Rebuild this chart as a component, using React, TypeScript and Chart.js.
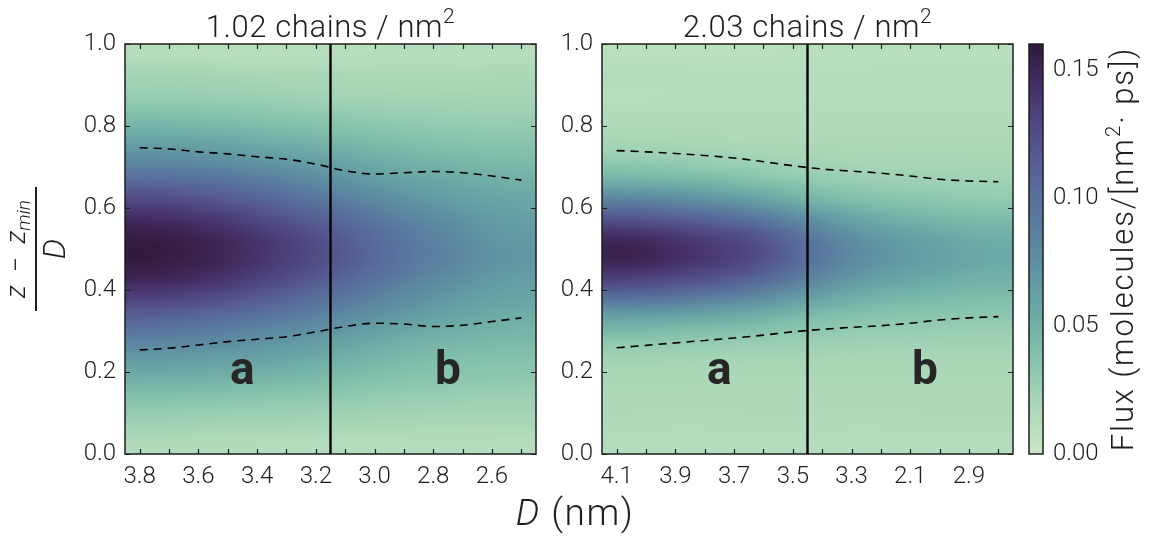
import React, { useEffect, useRef } from 'react';
import { Chart, registerables } from 'chart.js';

Chart.register(...registerables);

const CANVAS_W = 1161;
const CANVAS_H = 536;
const FONT = 'Roboto, "Liberation Sans", sans-serif';
const INK = '#1e1e1e';
const TICK_FONT = { family: FONT, size: 24, weight: '300' };

// ---- shared height axis (z - z_min) / D ----
const zTicks = [0, 0.2, 0.4, 0.6, 0.8, 1.0];
const zTickLabels = ['0.0', '0.2', '0.4', '0.6', '0.8', '1.0'];
const regionNames = ['a', 'b'];
const regionZ = 0.17;

// ---- 1.02 chains / nm^2 ----
const lowTitle = '1.02 chains / nm';
const lowDTicks = [3.8, 3.7, 3.6, 3.5, 3.4, 3.3, 3.2, 3.1, 3.0, 2.9, 2.8, 2.7, 2.6, 2.5];
const lowDTickLabels = ['3.8', '', '3.6', '', '3.4', '', '3.2', '', '3.0', '', '2.8', '', '2.6', ''];
const lowDRange = [2.45, 3.85];
// flux rows from z = 0.975 down to z = 0.025; columns D = 3.75 ... 2.55
const lowFlux = [
  [0.012, 0.011, 0.011, 0.011, 0.012, 0.012, 0.012],
  [0.022, 0.021, 0.019, 0.018, 0.017, 0.017, 0.018],
  [0.028, 0.027, 0.025, 0.022, 0.021, 0.021, 0.021],
  [0.040, 0.038, 0.035, 0.032, 0.029, 0.027, 0.026],
  [0.056, 0.053, 0.048, 0.043, 0.038, 0.035, 0.033],
  [0.076, 0.072, 0.065, 0.057, 0.049, 0.044, 0.041],
  [0.100, 0.095, 0.085, 0.072, 0.061, 0.054, 0.049],
  [0.125, 0.118, 0.105, 0.090, 0.075, 0.064, 0.057],
  [0.145, 0.138, 0.124, 0.108, 0.089, 0.075, 0.064],
  [0.157, 0.150, 0.137, 0.120, 0.098, 0.082, 0.068],
  [0.158, 0.151, 0.138, 0.122, 0.100, 0.084, 0.070],
  [0.149, 0.142, 0.129, 0.112, 0.092, 0.077, 0.065],
  [0.130, 0.123, 0.111, 0.096, 0.080, 0.067, 0.059],
  [0.106, 0.100, 0.090, 0.079, 0.066, 0.057, 0.051],
  [0.084, 0.079, 0.072, 0.063, 0.053, 0.047, 0.044],
  [0.064, 0.061, 0.057, 0.051, 0.044, 0.039, 0.037],
  [0.049, 0.047, 0.044, 0.040, 0.036, 0.033, 0.031],
  [0.035, 0.033, 0.031, 0.030, 0.027, 0.025, 0.024],
  [0.025, 0.023, 0.022, 0.021, 0.020, 0.019, 0.019],
  [0.014, 0.014, 0.013, 0.013, 0.012, 0.013, 0.012],
];
const lowBoundaryD = [3.8, 3.7, 3.6, 3.5, 3.4, 3.3, 3.2, 3.1, 3.0, 2.9, 2.8, 2.7, 2.6, 2.5];
const lowUpper = [0.747, 0.744, 0.737, 0.732, 0.725, 0.719, 0.707, 0.691, 0.683, 0.686, 0.689, 0.686, 0.678, 0.668];
const lowLower = [0.254, 0.258, 0.266, 0.274, 0.280, 0.286, 0.298, 0.311, 0.319, 0.317, 0.311, 0.314, 0.323, 0.332];
const lowDivider = 3.15;
const lowRegionD = [3.45, 2.75];

// ---- 2.03 chains / nm^2 ----
const highTitle = '2.03 chains / nm';
const highDTicks = [4.1, 4.0, 3.9, 3.8, 3.7, 3.6, 3.5, 3.4, 3.3, 3.2, 3.1, 3.0, 2.9, 2.8];
const highDTickLabels = ['4.1', '', '3.9', '', '3.7', '', '3.5', '', '3.3', '', '2.1', '', '2.9', ''];
const highDRange = [2.75, 4.15];
// flux rows from z = 0.975 down to z = 0.025; columns D = 4.05 ... 2.85
const highFlux = [
  [0.010, 0.010, 0.010, 0.011, 0.011, 0.011, 0.011],
  [0.013, 0.013, 0.012, 0.012, 0.012, 0.013, 0.013],
  [0.011, 0.012, 0.012, 0.012, 0.012, 0.012, 0.012],
  [0.014, 0.014, 0.014, 0.014, 0.014, 0.014, 0.014],
  [0.018, 0.017, 0.016, 0.016, 0.016, 0.016, 0.016],
  [0.027, 0.025, 0.022, 0.020, 0.019, 0.019, 0.019],
  [0.046, 0.042, 0.036, 0.029, 0.025, 0.024, 0.023],
  [0.080, 0.073, 0.062, 0.047, 0.037, 0.033, 0.030],
  [0.120, 0.111, 0.098, 0.074, 0.055, 0.047, 0.042],
  [0.148, 0.138, 0.126, 0.097, 0.072, 0.061, 0.053],
  [0.152, 0.142, 0.130, 0.100, 0.075, 0.064, 0.056],
  [0.132, 0.124, 0.111, 0.084, 0.064, 0.056, 0.050],
  [0.094, 0.087, 0.077, 0.060, 0.048, 0.043, 0.040],
  [0.056, 0.052, 0.047, 0.039, 0.034, 0.032, 0.031],
  [0.033, 0.031, 0.029, 0.027, 0.025, 0.024, 0.024],
  [0.022, 0.021, 0.020, 0.020, 0.019, 0.019, 0.019],
  [0.018, 0.018, 0.017, 0.017, 0.017, 0.017, 0.017],
  [0.016, 0.016, 0.016, 0.016, 0.016, 0.016, 0.016],
  [0.015, 0.014, 0.015, 0.015, 0.014, 0.015, 0.015],
  [0.012, 0.012, 0.012, 0.012, 0.012, 0.012, 0.012],
];
const highBoundaryD = [4.1, 4.0, 3.9, 3.8, 3.7, 3.6, 3.5, 3.4, 3.3, 3.2, 3.1, 3.0, 2.9, 2.8];
const highUpper = [0.740, 0.737, 0.733, 0.728, 0.722, 0.713, 0.703, 0.695, 0.690, 0.685, 0.678, 0.670, 0.666, 0.664];
const highLower = [0.259, 0.265, 0.271, 0.277, 0.283, 0.290, 0.298, 0.304, 0.309, 0.313, 0.319, 0.327, 0.332, 0.335];
const highDivider = 3.45;
const highRegionD = [3.75, 3.05];

// ---- colour bar ----
const fluxTicks = [0, 0.05, 0.10, 0.15];
const fluxTickLabels = ['0.00', '0.05', '0.10', '0.15'];
const fluxRange = [0, 0.16];

// light mint -> teal -> slate blue -> deep plum
const CMAP_STOPS: number[][] = [
  [0.0, 201, 231, 197],
  [0.125, 168, 214, 183],
  [0.25, 128, 191, 171],
  [0.344, 108, 170, 165],
  [0.4375, 96, 150, 163],
  [0.53, 91, 130, 160],
  [0.625, 88, 112, 156],
  [0.72, 86, 92, 147],
  [0.8125, 80, 70, 128],
  [0.906, 67, 45, 98],
  [1.0, 48, 24, 58],
];

function fluxColor(v: number): number[] {
  const t = Math.min(1, Math.max(0, (v - fluxRange[0]) / (fluxRange[1] - fluxRange[0])));
  for (let i = 1; i < CMAP_STOPS.length; i++) {
    const a = CMAP_STOPS[i - 1];
    const b = CMAP_STOPS[i];
    if (t <= b[0]) {
      const f = (t - a[0]) / (b[0] - a[0]);
      return [0, 1, 2].map((k) => Math.round(a[k + 1] + (b[k + 1] - a[k + 1]) * f));
    }
  }
  const last = CMAP_STOPS[CMAP_STOPS.length - 1];
  return [last[1], last[2], last[3]];
}

type Run = { text: string; font: string; dy?: number };

function drawRuns(
  ctx: CanvasRenderingContext2D,
  runs: Run[],
  x: number,
  y: number,
  align: 'left' | 'center',
  spacing = 0
) {
  ctx.textAlign = 'left';
  ctx.textBaseline = 'alphabetic';
  (ctx as any).letterSpacing = `${spacing}px`;
  const widths = runs.map((r) => {
    ctx.font = r.font;
    return ctx.measureText(r.text).width;
  });
  const total = widths.reduce((s, w) => s + w, 0);
  let cx = align === 'center' ? x - total / 2 : x;
  runs.forEach((r, i) => {
    ctx.font = r.font;
    ctx.fillText(r.text, cx, y + (r.dy || 0));
    cx += widths[i];
  });
  (ctx as any).letterSpacing = '0px';
}

const PANEL_Y_AXIS_W = 60;
const PANEL_X_AXIS_H = 40;
const lowBox = { left: 125, right: 536, top: 44, bottom: 454 };
const highBox = { left: 602, right: 1013, top: 44, bottom: 454 };
const barBox = { left: 1029, right: 1043, top: 44, bottom: 454 };

type PanelSpec = {
  title: string;
  dTicks: number[];
  dTickLabels: string[];
  dRange: number[];
  flux: number[][];
  boundaryD: number[];
  upper: number[];
  lower: number[];
  divider: number;
  regionD: number[];
};

function drawHeatmap(chart: any, flux: number[][], dRange: number[]) {
  const { ctx, chartArea, scales } = chart;
  const rows = flux.length;
  const cols = flux[0].length;
  const off = document.createElement('canvas');
  off.width = cols;
  off.height = rows;
  const octx = off.getContext('2d')!;
  const img = octx.createImageData(cols, rows);
  flux.forEach((row, r) =>
    row.forEach((v, c) => {
      const [R, G, B] = fluxColor(v);
      const i = (r * cols + c) * 4;
      img.data[i] = R;
      img.data[i + 1] = G;
      img.data[i + 2] = B;
      img.data[i + 3] = 255;
    })
  );
  octx.putImageData(img, 0, 0);
  const xa = scales.x.getPixelForValue(dRange[1]);
  const xb = scales.x.getPixelForValue(dRange[0]);
  const ya = scales.y.getPixelForValue(1);
  const yb = scales.y.getPixelForValue(0);
  ctx.save();
  ctx.beginPath();
  ctx.rect(chartArea.left, chartArea.top, chartArea.right - chartArea.left, chartArea.bottom - chartArea.top);
  ctx.clip();
  ctx.imageSmoothingEnabled = true;
  ctx.imageSmoothingQuality = 'high';
  ctx.drawImage(off, Math.min(xa, xb), Math.min(ya, yb), Math.abs(xb - xa), Math.abs(yb - ya));
  ctx.restore();
}

function makePanel(canvas: HTMLCanvasElement, spec: PanelSpec, box: typeof lowBox) {
  const decor = {
    id: 'panelDecor',
    beforeDatasetsDraw(chart: any) {
      drawHeatmap(chart, spec.flux, spec.dRange);
    },
    afterDatasetsDraw(chart: any) {
      const { ctx, chartArea, scales } = chart;
      ctx.save();
      // region letters
      ctx.fillStyle = '#262626';
      ctx.font = `bold 46px ${FONT}`;
      ctx.textAlign = 'center';
      ctx.textBaseline = 'alphabetic';
      spec.regionD.forEach((d, i) => {
        ctx.fillText(regionNames[i], scales.x.getPixelForValue(d), scales.y.getPixelForValue(regionZ));
      });
      // frame
      ctx.strokeStyle = INK;
      ctx.lineWidth = 1.5;
      ctx.strokeRect(chartArea.left, chartArea.top, chartArea.right - chartArea.left, chartArea.bottom - chartArea.top);
      // inward ticks
      ctx.lineWidth = 1.2;
      ctx.beginPath();
      spec.dTicks.forEach((d) => {
        const px = Math.round(scales.x.getPixelForValue(d)) + 0.5;
        ctx.moveTo(px, chartArea.bottom);
        ctx.lineTo(px, chartArea.bottom - 5);
        ctx.moveTo(px, chartArea.top);
        ctx.lineTo(px, chartArea.top + 5);
      });
      zTicks.forEach((z) => {
        const py = Math.round(scales.y.getPixelForValue(z)) + 0.5;
        ctx.moveTo(chartArea.left, py);
        ctx.lineTo(chartArea.left + 5, py);
        ctx.moveTo(chartArea.right, py);
        ctx.lineTo(chartArea.right - 5, py);
      });
      ctx.stroke();
      ctx.restore();
    },
    afterDraw(chart: any) {
      const { ctx, chartArea } = chart;
      ctx.save();
      ctx.fillStyle = INK;
      drawRuns(
        ctx,
        [
          { text: spec.title, font: `300 31px ${FONT}` },
          { text: '2', font: `300 21px ${FONT}`, dy: -14 },
        ],
        (chartArea.left + chartArea.right) / 2,
        37,
        'center',
        0.6
      );
      ctx.restore();
    },
  };

  const lineStyle = {
    showLine: true,
    pointRadius: 0,
    pointHoverRadius: 0,
    fill: false,
  };

  return new Chart(canvas, {
    type: 'scatter',
    data: {
      datasets: [
        {
          ...lineStyle,
          data: spec.boundaryD.map((d, i) => ({ x: d, y: spec.upper[i] })),
          borderColor: '#000000',
          borderWidth: 1.6,
          borderDash: [8, 6],
          cubicInterpolationMode: 'monotone',
        },
        {
          ...lineStyle,
          data: spec.boundaryD.map((d, i) => ({ x: d, y: spec.lower[i] })),
          borderColor: '#000000',
          borderWidth: 1.6,
          borderDash: [8, 6],
          cubicInterpolationMode: 'monotone',
        },
        {
          ...lineStyle,
          data: [
            { x: spec.divider, y: 0 },
            { x: spec.divider, y: 1 },
          ],
          borderColor: '#000000',
          borderWidth: 2.4,
        },
      ],
    } as any,
    options: {
      responsive: false,
      animation: false,
      events: [],
      layout: {
        padding: {
          left: box.left - PANEL_Y_AXIS_W,
          right: CANVAS_W - box.right,
          top: box.top,
          bottom: CANVAS_H - box.bottom - PANEL_X_AXIS_H,
        },
      },
      plugins: { legend: { display: false }, tooltip: { enabled: false } },
      scales: {
        x: {
          type: 'linear',
          position: 'bottom',
          reverse: true,
          min: spec.dRange[0],
          max: spec.dRange[1],
          afterBuildTicks: (axis: any) => {
            axis.ticks = spec.dTicks.map((v) => ({ value: v }));
          },
          afterFit: (axis: any) => {
            axis.height = PANEL_X_AXIS_H;
          },
          grid: { display: false, drawTicks: false },
          border: { display: false },
          ticks: {
            autoSkip: false,
            maxRotation: 0,
            minRotation: 0,
            padding: 9,
            color: INK,
            font: TICK_FONT,
            callback: (_v: any, i: number) => spec.dTickLabels[i],
          },
        },
        y: {
          type: 'linear',
          position: 'left',
          min: 0,
          max: 1,
          afterBuildTicks: (axis: any) => {
            axis.ticks = zTicks.map((v) => ({ value: v }));
          },
          afterFit: (axis: any) => {
            axis.width = PANEL_Y_AXIS_W;
          },
          grid: { display: false, drawTicks: false },
          border: { display: false },
          ticks: {
            autoSkip: false,
            padding: 9,
            color: INK,
            font: TICK_FONT,
            callback: (_v: any, i: number) => zTickLabels[i],
          },
        },
      },
    } as any,
    plugins: [decor],
  });
}

const BAR_AXIS_W = 80;

function makeColorBar(canvas: HTMLCanvasElement) {
  const decor = {
    id: 'barDecor',
    beforeDatasetsDraw(chart: any) {
      const { ctx, chartArea, scales } = chart;
      const y0 = scales.y.getPixelForValue(fluxRange[0]);
      const y1 = scales.y.getPixelForValue(fluxRange[1]);
      const grad = ctx.createLinearGradient(0, y0, 0, y1);
      for (let k = 0; k <= 64; k++) {
        const v = fluxRange[0] + ((fluxRange[1] - fluxRange[0]) * k) / 64;
        const [R, G, B] = fluxColor(v);
        grad.addColorStop(k / 64, `rgb(${R},${G},${B})`);
      }
      ctx.save();
      ctx.fillStyle = grad;
      ctx.fillRect(chartArea.left, chartArea.top, chartArea.right - chartArea.left, chartArea.bottom - chartArea.top);
      ctx.strokeStyle = INK;
      ctx.lineWidth = 1.5;
      ctx.strokeRect(chartArea.left, chartArea.top, chartArea.right - chartArea.left, chartArea.bottom - chartArea.top);
      ctx.restore();
    },
    afterDraw(chart: any) {
      const { ctx } = chart;
      ctx.save();
      ctx.fillStyle = INK;

      // colour bar title, reading upward
      ctx.save();
      ctx.translate(1133, 249);
      ctx.rotate(-Math.PI / 2);
      drawRuns(
        ctx,
        [
          { text: 'Flux (molecules/[nm', font: `300 31px ${FONT}` },
          { text: '2', font: `300 21px ${FONT}`, dy: -13 },
          { text: '· ps])', font: `300 31px ${FONT}` },
        ],
        0,
        0,
        'center',
        1.9
      );
      ctx.restore();

      // shared vertical axis title: (z - z_min) / D
      ctx.save();
      ctx.translate(36, 249);
      ctx.rotate(-Math.PI / 2);
      ctx.fillRect(-62, -1, 124, 2);
      drawRuns(
        ctx,
        [
          { text: 'z', font: `italic 300 27px ${FONT}` },
          { text: '  −  ', font: `300 27px ${FONT}` },
          { text: 'z', font: `italic 300 27px ${FONT}` },
          { text: 'min', font: `italic 300 19px ${FONT}`, dy: 5 },
        ],
        0,
        -11,
        'center'
      );
      ctx.font = `italic 300 32px ${FONT}`;
      ctx.textAlign = 'center';
      ctx.fillText('D', 0, 29);
      ctx.restore();

      // shared horizontal axis title: D (nm)
      drawRuns(
        ctx,
        [
          { text: 'D', font: `italic 300 37px ${FONT}` },
          { text: ' (nm)', font: `300 37px ${FONT}` },
        ],
        575,
        525,
        'center',
        1.5
      );
      ctx.restore();
    },
  };

  return new Chart(canvas, {
    type: 'scatter',
    data: { datasets: [] },
    options: {
      responsive: false,
      animation: false,
      events: [],
      layout: {
        padding: {
          left: barBox.left,
          right: CANVAS_W - barBox.right - BAR_AXIS_W,
          top: barBox.top,
          bottom: CANVAS_H - barBox.bottom,
        },
      },
      plugins: { legend: { display: false }, tooltip: { enabled: false } },
      scales: {
        x: { type: 'linear', display: false, min: 0, max: 1 },
        y: {
          type: 'linear',
          position: 'right',
          min: fluxRange[0],
          max: fluxRange[1],
          afterBuildTicks: (axis: any) => {
            axis.ticks = fluxTicks.map((v) => ({ value: v }));
          },
          afterFit: (axis: any) => {
            axis.width = BAR_AXIS_W;
          },
          grid: { display: false, drawTicks: false },
          border: { display: false },
          ticks: {
            autoSkip: false,
            padding: 10,
            color: INK,
            font: TICK_FONT,
            callback: (_v: any, i: number) => fluxTickLabels[i],
          },
        },
      },
    } as any,
    plugins: [decor],
  });
}

export default function App() {
  const lowRef = useRef<HTMLCanvasElement>(null);
  const highRef = useRef<HTMLCanvasElement>(null);
  const barRef = useRef<HTMLCanvasElement>(null);

  useEffect(() => {
    document.body.style.margin = '0';
    const charts = [
      makePanel(
        lowRef.current!,
        {
          title: lowTitle,
          dTicks: lowDTicks,
          dTickLabels: lowDTickLabels,
          dRange: lowDRange,
          flux: lowFlux,
          boundaryD: lowBoundaryD,
          upper: lowUpper,
          lower: lowLower,
          divider: lowDivider,
          regionD: lowRegionD,
        },
        lowBox
      ),
      makePanel(
        highRef.current!,
        {
          title: highTitle,
          dTicks: highDTicks,
          dTickLabels: highDTickLabels,
          dRange: highDRange,
          flux: highFlux,
          boundaryD: highBoundaryD,
          upper: highUpper,
          lower: highLower,
          divider: highDivider,
          regionD: highRegionD,
        },
        highBox
      ),
      makeColorBar(barRef.current!),
    ];
    return () => charts.forEach((c) => c.destroy());
  }, []);

  const layer: React.CSSProperties = { position: 'absolute', left: 0, top: 0 };
  return (
    <div style={{ position: 'relative', width: CANVAS_W, height: CANVAS_H, background: '#ffffff' }}>
      <canvas ref={lowRef} width={CANVAS_W} height={CANVAS_H} style={layer} />
      <canvas ref={highRef} width={CANVAS_W} height={CANVAS_H} style={layer} />
      <canvas ref={barRef} width={CANVAS_W} height={CANVAS_H} style={layer} />
    </div>
  );
}
